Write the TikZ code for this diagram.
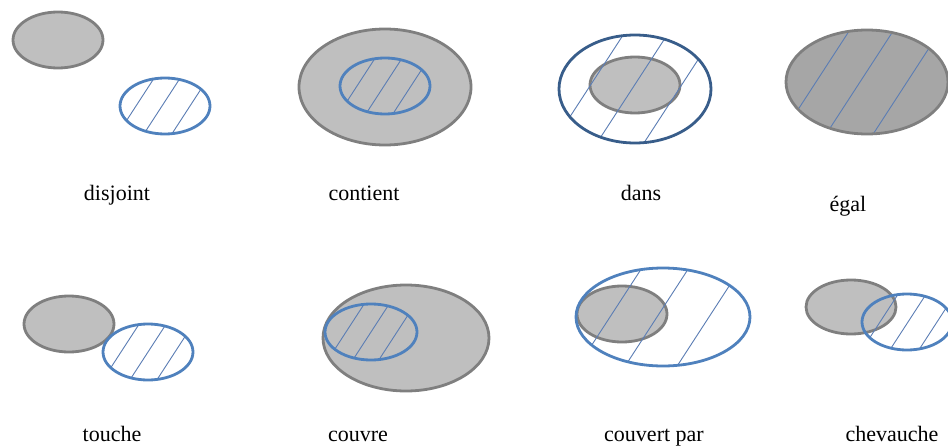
\documentclass[tikz,border=0pt]{standalone}
\usepackage{fontspec}
\setmainfont{Liberation Serif}
\definecolor{grayfill}{HTML}{BFBFBF}
\definecolor{grayfilldark}{HTML}{A6A6A6}
\definecolor{grayline}{HTML}{7F7F7F}
\definecolor{blueline}{HTML}{4F81BD}
\definecolor{darkblue}{HTML}{385D8A}
\definecolor{hatchblue}{HTML}{5B7DB4}
\newcommand\hatchell[5]{%
  \begin{scope}
    \clip (#1,#2) ellipse [x radius=#3, y radius=#4];
    \foreach \o in {#5}{\draw[hatchline] ({#1+\o+65},{#2-100}) -- ({#1+\o-65},{#2+100});}
  \end{scope}}
\begin{document}
\begin{tikzpicture}[x=1pt,y=-1pt,
  grayset/.style={draw=grayline, fill=grayfill, line width=2.8pt},
  blueset/.style={draw=blueline, line width=2.8pt},
  hatchline/.style={draw=hatchblue, line width=0.9pt},
  lab/.style={anchor=base, inner sep=0pt, font=\fontsize{22}{26}\selectfont}]
\useasboundingbox (0,0) rectangle (948,447);

% disjoint
\draw[grayset] (58,40) ellipse [x radius=45, y radius=28];
\draw[fill=white, draw=none] (165,106) ellipse [x radius=45, y radius=28];
\hatchell{165}{106}{45}{28}{-29,-3,25}
\draw[blueset] (165,106) ellipse [x radius=45, y radius=28];
\node[lab] (l1) at (117,200) {disjoint};

% contient
\draw[grayset] (385,87) ellipse [x radius=86, y radius=58];
\hatchell{385}{86}{45}{28}{-28,-1,26}
\draw[blueset] (385,86) ellipse [x radius=45, y radius=28];
\node[lab] (l2) at (364,200) {contient};

% dans
\draw[fill=white, draw=none] (635,89) ellipse [x radius=76, y radius=54];
\draw[grayset] (635,85) ellipse [x radius=45, y radius=28];
\hatchell{635}{89}{76}{54}{-47,-3,44}
\draw[draw=darkblue, line width=2.8pt] (635,89) ellipse [x radius=76, y radius=54];
\node[lab] (l3) at (641,200) {dans};

% egal
\fill[grayfilldark] (867,82) ellipse [x radius=81, y radius=52];
\hatchell{867}{82}{81}{52}{-51,-7,40}
\draw[draw=grayline, line width=2.8pt] (867,82) ellipse [x radius=81, y radius=52];
\node[lab] (l4) at (848,211) {égal};

% touche
\draw[grayset] (69,324) ellipse [x radius=45, y radius=28];
\draw[fill=white, draw=none] (148,352) ellipse [x radius=45, y radius=28];
\hatchell{148}{352}{45}{28}{-27,0,27}
\draw[blueset] (148,352) ellipse [x radius=45, y radius=28];
\node[lab] (l5) at (112,441) {touche};

% couvre
\draw[grayset] (406,338) ellipse [x radius=83, y radius=53];
\hatchell{371}{332}{46}{28}{-25,0,26}
\draw[blueset] (371,332) ellipse [x radius=46, y radius=28];
\node[lab] (l6) at (358,441) {couvre};

% couvert par
\draw[fill=white, draw=none] (663,317) ellipse [x radius=87, y radius=49];
\draw[grayset] (622,314) ellipse [x radius=45, y radius=28];
\hatchell{663}{317}{87}{49}{-53,-6,46}
\draw[blueset] (663,317) ellipse [x radius=87, y radius=49];
\node[lab] (l7) at (654,441) {couvert par};

% chevauche
\draw[grayset] (851,307) ellipse [x radius=45, y radius=27];
\hatchell{907}{322}{45}{28}{-27,1,30}
\draw[blueset] (907,322) ellipse [x radius=45, y radius=28];
\node[lab] (l8) at (892,441) {chevauche};
\end{tikzpicture}
\end{document}
